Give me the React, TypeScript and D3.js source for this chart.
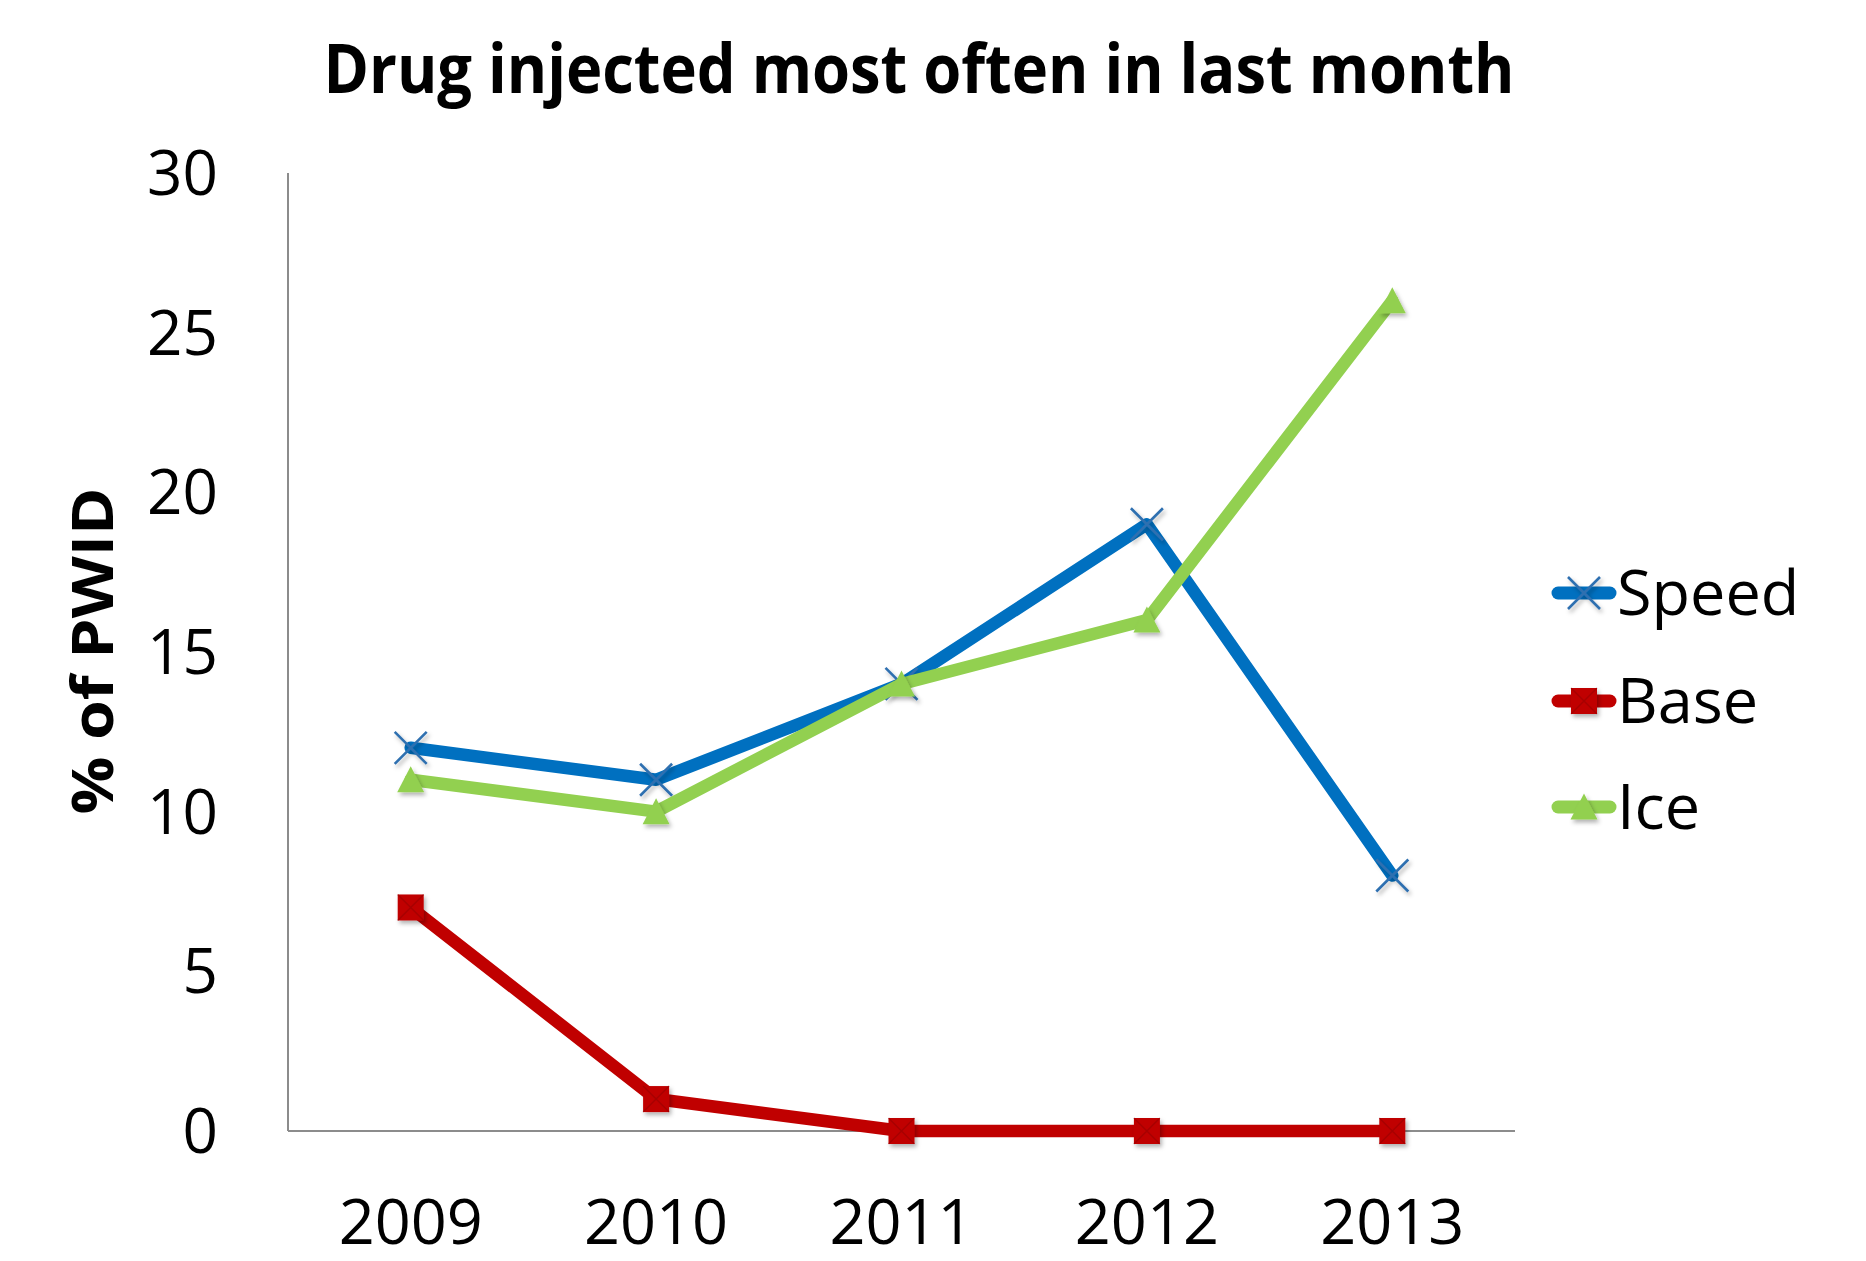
import { useRef, useEffect } from 'react';
import * as d3 from 'd3';

const YEARS = ['2009', '2010', '2011', '2012', '2013'];
const SPEED = [12, 11, 14, 19, 8];
const BASE = [7, 1, 0, 0, 0];
const ICE = [11, 10, 14, 16, 26];
const Y_TICKS = [0, 5, 10, 15, 20, 25, 30];

const SERIES = [
  { name: 'Speed', values: SPEED, color: '#0070C0', marker: 'x' },
  { name: 'Base', values: BASE, color: '#C00000', marker: 'square' },
  { name: 'Ice', values: ICE, color: '#92D050', marker: 'triangle' },
];

const FONT = '"Open Sans", "Noto Sans", sans-serif';

export default function App() {
  const ref = useRef<SVGSVGElement>(null);

  useEffect(() => {
    const svg = ref.current;
    if (!svg) return;
    const W = 1866, H = 1261;
    const left = 288, right = 1515, top = 173, bottom = 1131;

    d3.select(svg).selectAll('*').remove();
    const root = d3.select(svg).attr('width', W).attr('height', H).attr('viewBox', `0 0 ${W} ${H}`);

    const defs = root.append('defs');
    const f = defs.append('filter').attr('id', 'shadow').attr('x', '-50%').attr('y', '-50%').attr('width', '200%').attr('height', '200%');
    f.append('feDropShadow').attr('dx', 2).attr('dy', 3).attr('stdDeviation', 2).attr('flood-color', '#000').attr('flood-opacity', 0.3);

    const g = root.append('g');
    g.append('rect').attr('width', W).attr('height', H).attr('fill', '#fff');

    const x = d3.scaleBand().domain(YEARS).range([left, right]);
    const cx = (d: string) => x(d)! + x.bandwidth() / 2;
    const y = d3.scaleLinear().domain([0, 30]).range([bottom, top]);

    // axes
    g.append('line').attr('x1', left).attr('y1', top).attr('x2', left).attr('y2', bottom)
      .attr('stroke', '#8c8c8c').attr('stroke-width', 2);
    g.append('line').attr('x1', left).attr('y1', bottom).attr('x2', right).attr('y2', bottom)
      .attr('stroke', '#8c8c8c').attr('stroke-width', 2);

    Y_TICKS.forEach((v) => {
      g.append('text').attr('x', 218).attr('y', y(v) + 22).attr('text-anchor', 'end')
        .attr('font-family', FONT).attr('font-size', 62).attr('fill', '#000').text(v);
    });
    YEARS.forEach((yr) => {
      g.append('text').attr('x', cx(yr)).attr('y', 1244).attr('text-anchor', 'middle')
        .attr('font-family', FONT).attr('font-size', 63).attr('fill', '#000').text(yr);
    });

    // title
    g.append('text').attr('x', 919).attr('y', 93).attr('text-anchor', 'middle')
      .attr('font-family', FONT).attr('font-weight', 'bold').attr('font-size', 68)
      .attr('textLength', 1191).attr('lengthAdjust', 'spacingAndGlyphs')
      .attr('fill', '#000').text('Drug injected most often in last month');

    // y axis title
    g.append('text').attr('transform', 'translate(113,651) rotate(-90)').attr('text-anchor', 'middle')
      .attr('font-family', FONT).attr('font-weight', 'bold').attr('font-size', 58)
      .attr('textLength', 327).attr('lengthAdjust', 'spacingAndGlyphs')
      .attr('fill', '#000').text('% of PWID');

    const drawMarker = (sel: d3.Selection<SVGGElement, unknown, null, undefined>, type: string, px: number, py: number, color: string) => {
      const m = sel.append('g').attr('filter', 'url(#shadow)');
      if (type === 'x') {
        const s = 16;
        m.append('path').attr('d', `M${px - s},${py - s}L${px + s},${py + s}M${px - s},${py + s}L${px + s},${py - s}`)
          .attr('stroke', '#2f6fb0').attr('stroke-width', 2.6).attr('fill', 'none');
      } else if (type === 'square') {
        const s = 13;
        m.append('rect').attr('x', px - s).attr('y', py - s).attr('width', 2 * s).attr('height', 2 * s).attr('fill', color);
        m.append('path').attr('d', `M${px - s},${py - s}L${px + s},${py + s}M${px - s},${py + s}L${px + s},${py - s}`)
          .attr('stroke', '#8a0000').attr('stroke-width', 1.5).attr('opacity', 0.45);
      } else {
        const s = 13.5;
        m.append('path').attr('d', `M${px},${py - s}L${px + s},${py + s - 1}L${px - s},${py + s - 1}Z`).attr('fill', color);
      }
    };

    const line = d3.line<number>().x((_, i) => cx(YEARS[i])).y((v) => y(v));

    SERIES.forEach((s) => {
      const sg = g.append('g');
      sg.append('path').attr('d', line(s.values)!).attr('fill', 'none').attr('stroke', s.color)
        .attr('stroke-width', 12.5).attr('stroke-linejoin', 'round').attr('stroke-linecap', 'round');
      s.values.forEach((v, i) => drawMarker(sg as any, s.marker, cx(YEARS[i]), y(v), s.color));
    });

    // legend
    const legendY = [593, 701, 807];
    SERIES.forEach((s, i) => {
      const lg = g.append('g');
      const ly = legendY[i];
      lg.append('line').attr('x1', 1558).attr('y1', ly).attr('x2', 1610).attr('y2', ly)
        .attr('stroke', s.color).attr('stroke-width', 13).attr('stroke-linecap', 'round');
      drawMarker(lg as any, s.marker, 1584, ly, s.color);
      lg.append('text').attr('x', 1617).attr('y', ly + 22).attr('font-family', FONT).attr('font-size', 63)
        .attr('fill', '#000').text(s.name);
    });
  }, []);

  return (
    <svg ref={ref} style={{ position: 'absolute', left: 0, top: 0, display: 'block' }} />
  );
}
